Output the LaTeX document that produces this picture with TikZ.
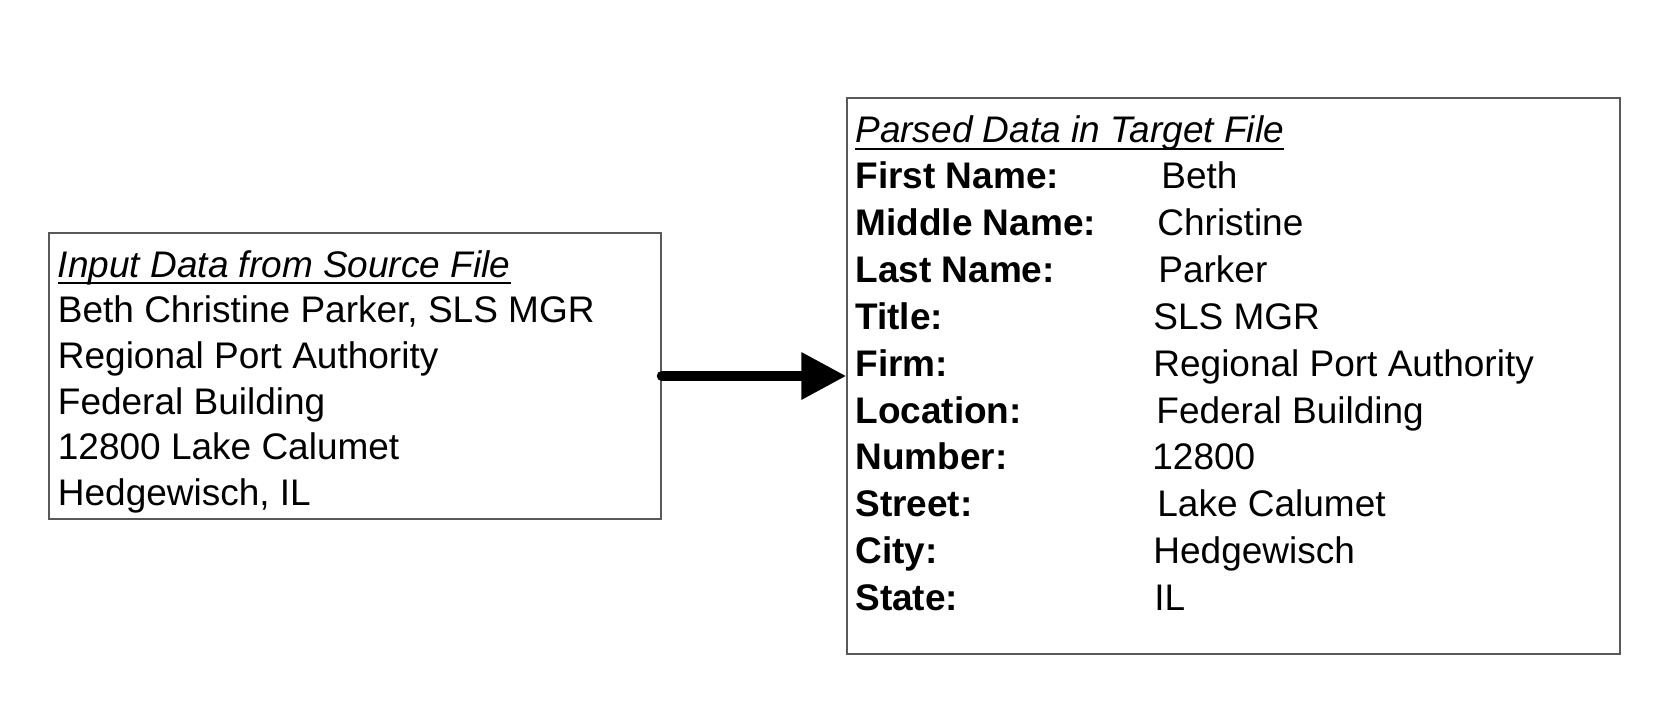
\documentclass[tikz,border=0pt]{standalone}
\usepackage{fontspec}
\setmainfont{Liberation Sans}
\usetikzlibrary{arrows.meta}

\tikzset{
  databox/.style={draw=black!65, line width=0.75pt, inner sep=0pt},
  txt/.style={anchor=base west, inner sep=0pt, font=\fontsize{18.5}{22}\selectfont},
  hdr/.style={txt, font=\fontsize{18.5}{22}\selectfont\itshape},
  lbl/.style={txt, font=\fontsize{18.5}{22}\selectfont\bfseries},
}

\begin{document}
\begin{tikzpicture}[x=0.5pt, y=-0.5pt]
\useasboundingbox (0,0) rectangle (1666,706);

%================ SOURCE BOX ==================
\node[databox, minimum width=306pt, minimum height=143pt] (src) at (355,376) {};

\node[hdr] (srctitle) at (57.5,277) {Input Data from Source File};
\draw[line width=1.3pt] ([yshift=-3pt]srctitle.base west) -- ([yshift=-3pt]srctitle.base east);

\foreach \i/\t in {1/{Beth Christine Parker, SLS MGR}, 2/Regional Port Authority,
                   3/Federal Building, 4/12800 Lake Calumet, 5/{Hedgewisch, IL}} {
  \node[txt] (src\i) at (57.5,{277+45.7*\i}) {\t};
}


%================ TARGET BOX ==================
\node[databox, minimum width=386.5pt, minimum height=278pt] (tgt) at (1233.5,376) {};

\node[hdr] (tgttitle) at (855,143) {Parsed Data in Target File};
\draw[line width=1.3pt] ([yshift=-3pt]tgttitle.base west) -- ([yshift=-3pt]tgttitle.base east);

% label / value / x of value
\foreach \i/\l/\v/\vx in {1/First Name:/Beth/1161, 2/Middle Name:/Christine/1157,
                          3/Last Name:/Parker/1158, 4/Title:/SLS MGR/1153,
                          5/Firm:/Regional Port Authority/1153, 6/Location:/Federal Building/1156,
                          7/Number:/12800/1152, 8/Street:/Lake Calumet/1157,
                          9/City:/Hedgewisch/1153, 10/State:/IL/1154} {
  \node[lbl] (lbl\i) at (855,{189+46.8*(\i-1)}) {\l};
  \node[txt] (val\i) at (\vx,{189+46.8*(\i-1)}) {\v};
}


%================ ARROW ==================
\draw[line width=5pt, line cap=round, -{Triangle[length=22.5pt, width=22.5pt]}] (src.east) -- (tgt.west);

\end{tikzpicture}
\end{document}
